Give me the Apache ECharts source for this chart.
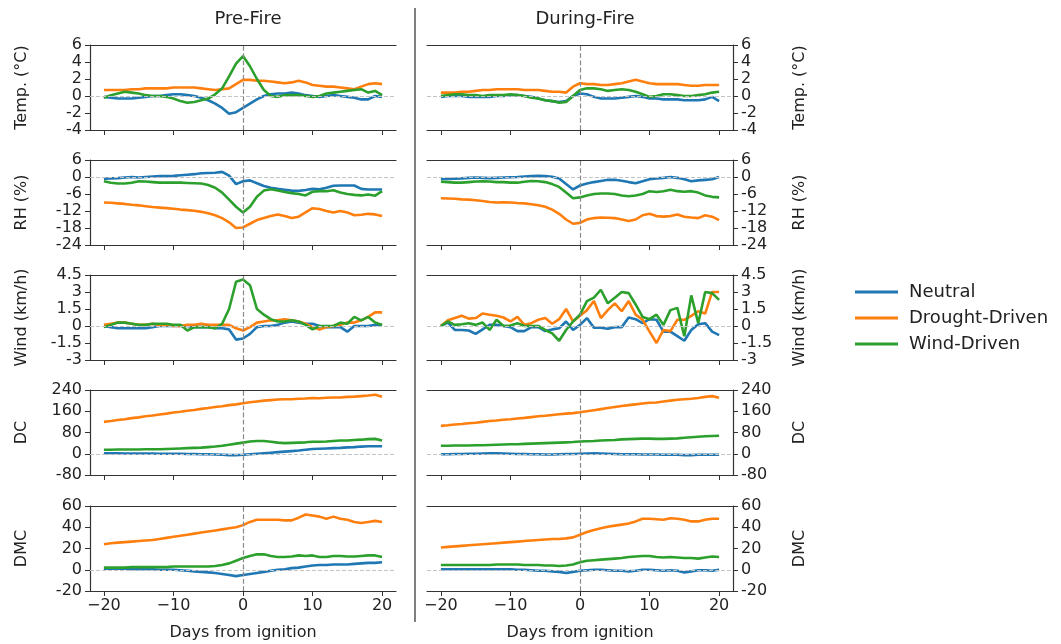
<!DOCTYPE html>
<html>
<head>
<meta charset="utf-8">
<script src="https://cdn.jsdelivr.net/npm/echarts@6/dist/echarts.min.js"></script>
<style>
  html, body { margin: 0; padding: 0; background: #fff; }
  #chart { width: 1061px; height: 644px; }
</style>
</head>
<body>
<div id="chart"></div>
<script>
// days from ignition
const days = [-20,-19,-18,-17,-16,-15,-14,-13,-12,-11,-10,-9,-8,-7,-6,-5,-4,-3,-2,-1,0,1,2,3,4,5,6,7,8,9,10,11,12,13,14,15,16,17,18,19,20];
const seriesNames = ['Neutral', 'Drought-Driven', 'Wind-Driven'];
const xTicks = [-20, -10, 0, 10, 20];

// Temp. (°C)
const tempPreNeutral = [-0.1,-0.2,-0.3,-0.3,-0.3,-0.2,-0.1,0,0,0.1, 0.2,0.2,0.1,0,-0.2,-0.5,-0.9,-1.4,-2.1,-1.9, -1.4,-0.9,-0.4,0,0.2,0.3,0.3,0.4,0.3,0.1, 0,-0.1,0,0.1,0,-0.1,-0.2,-0.4,-0.4,0, -0.1];
const tempPreDrought = [0.7,0.7,0.7,0.7,0.8,0.8,0.9,0.9,0.9,0.9, 1.0,1.0,1.0,1.0,0.9,0.8,0.7,0.8,0.9,1.4, 1.9,1.9,1.8,1.8,1.7,1.6,1.5,1.6,1.8,1.6, 1.3,1.2,1.1,1.1,1.0,0.9,0.8,1.1,1.4,1.5, 1.4];
const tempPreWind = [-0.2,0.1,0.3,0.5,0.4,0.3,0.1,0,0,-0.1, -0.3,-0.6,-0.8,-0.7,-0.5,-0.3,0.2,0.9,2.3,3.8, 4.7,3.5,2.0,0.7,0,-0.1,0.1,0.1,0.1,0, -0.1,0,0.3,0.4,0.5,0.6,0.7,0.8,0.4,0.6, 0.1];
const tempDurNeutral = [-0.1,0,0,0,-0.1,-0.1,-0.1,-0.1,0,0, 0.1,0.1,0,-0.1,-0.3,-0.5,-0.6,-0.7,-0.6,0, 0.3,0.2,-0.1,-0.3,-0.3,-0.3,-0.2,-0.1,0,-0.1, -0.3,-0.3,-0.4,-0.4,-0.4,-0.5,-0.5,-0.5,-0.4,-0.1, -0.6];
const tempDurDrought = [0.4,0.4,0.4,0.5,0.5,0.6,0.7,0.7,0.8,0.8, 0.8,0.8,0.7,0.7,0.7,0.6,0.5,0.5,0.4,1.1, 1.5,1.4,1.4,1.3,1.3,1.4,1.5,1.7,1.9,1.7, 1.5,1.4,1.4,1.4,1.4,1.3,1.2,1.2,1.3,1.3, 1.3];
const tempDurWind = [0,0.1,0.2,0.2,0.1,0.1,0,0.1,0.1,0.1, 0.2,0.1,0,-0.2,-0.3,-0.5,-0.6,-0.8,-0.7,0, 0.7,0.9,0.9,0.8,0.6,0.7,0.8,0.7,0.5,0.2, -0.1,0,0.2,0.2,0.1,0,0,0.1,0.2,0.4, 0.5];

// RH (%)
const rhPreNeutral = [-0.6,-0.5,-0.4,-0.2,0,-0.2,0,0.2,0.3,0.3, 0.4,0.6,0.8,1.0,1.3,1.4,1.5,1.8,0.5,-2.5, -1.5,-1.2,-2.2,-3.2,-3.8,-4.2,-4.5,-4.8,-4.9,-4.6, -4.2,-4.3,-3.8,-3.1,-3.0,-3.0,-3.0,-4.2,-4.4,-4.4, -4.4];
const rhPreDrought = [-9.0,-9.1,-9.3,-9.5,-9.8,-10.0,-10.3,-10.6,-10.8,-11.0, -11.2,-11.5,-11.7,-11.9,-12.3,-12.8,-13.5,-14.5,-16.0,-18.0, -17.8,-16.5,-15.2,-14.5,-13.8,-13.2,-13.8,-14.5,-14.0,-12.5, -11.0,-11.3,-12.0,-12.5,-12.0,-12.5,-13.5,-13.3,-13.0,-13.2, -13.8];
const rhPreWind = [-1.5,-2.0,-2.3,-2.3,-2.0,-1.5,-1.6,-1.8,-2.0,-2.0, -2.0,-2.0,-2.1,-2.2,-2.3,-2.8,-3.8,-5.5,-8.0,-10.5, -12.5,-10.5,-7.0,-4.8,-4.3,-4.8,-5.3,-5.7,-6.0,-6.5, -5.2,-5.0,-5.0,-4.7,-5.5,-6.0,-6.3,-6.5,-6.2,-6.6, -5.0];
const rhDurNeutral = [-0.8,-0.7,-0.6,-0.5,-0.3,-0.2,-0.3,-0.4,-0.3,-0.2, -0.1,0,0.2,0.3,0.4,0.3,0.1,-0.5,-2.5,-4.4, -3.0,-2.3,-1.8,-1.4,-1.0,-1.0,-1.3,-1.8,-2.2,-1.5, -0.8,-0.5,-0.3,0,-0.3,-0.8,-1.5,-1.2,-1.0,-0.8, 0];
const rhDurDrought = [-7.5,-7.6,-7.7,-7.9,-8.0,-8.2,-8.5,-8.8,-9.0,-8.9, -9.0,-9.2,-9.3,-9.6,-10.0,-10.5,-11.5,-13.0,-15.0,-16.5, -16.2,-15.0,-14.5,-14.3,-14.4,-14.5,-15.0,-15.5,-15.0,-13.5, -13.0,-13.8,-14.0,-13.8,-13.2,-14.0,-14.3,-14.5,-13.5,-14.0, -15.2];
const rhDurWind = [-1.7,-1.8,-2.0,-2.0,-1.8,-1.6,-1.5,-1.6,-1.8,-1.8, -2.0,-2.0,-1.7,-1.4,-1.5,-1.8,-2.5,-3.5,-5.5,-7.5, -7.2,-6.5,-6.0,-5.8,-5.8,-6.0,-6.5,-6.8,-6.5,-6.0, -5.0,-5.3,-5.0,-4.5,-5.0,-5.2,-5.0,-5.5,-6.5,-7.0, -7.2];

// Wind (km/h)
const windPreNeutral = [0,-0.1,-0.2,-0.2,-0.2,-0.2,-0.2,-0.1,0,0, 0,0,0,-0.1,-0.1,-0.1,-0.2,-0.2,-0.3,-1.2, -1.1,-0.7,-0.1,0,0,0.1,0.3,0.4,0.3,0.2, 0.2,0,-0.1,-0.1,-0.1,-0.5,0,0,0,0.1, 0.1];
const windPreDrought = [0.1,0.2,0.3,0.3,0.2,0.1,0.1,0.2,0.1,0.1, 0,0,0.1,0.1,0.2,0.1,0.1,0.1,0.1,-0.2, -0.4,-0.1,0.3,0.4,0.5,0.5,0.6,0.5,0.4,0.2, -0.1,-0.3,-0.1,0,0.1,0.3,0.3,0.5,0.8,1.2, 1.2];
const windPreWind = [-0.1,0.1,0.3,0.3,0.2,0.1,0.1,0.2,0.2,0.2, 0.1,0.1,-0.4,-0.1,-0.1,-0.1,-0.2,0.2,1.5,3.9, 4.1,3.6,1.5,1.0,0.6,0.4,0.4,0.5,0.4,0.1, -0.3,0,0,0,0.3,0.2,0.8,0.5,0.8,0.3, 0.1];
const windDurNeutral = [0,0.3,-0.35,-0.35,-0.4,-0.7,-0.3,0.1,0.1,0, -0.1,-0.45,-0.45,-0.1,-0.1,-0.45,-0.3,-0.2,0.4,-0.35, 0.1,0.7,-0.15,-0.15,-0.25,-0.1,-0.1,0.75,0.6,0.25, 0.6,0.55,-0.5,-0.5,-0.9,-1.3,-0.35,0.15,0.25,-0.5, -0.8];
const windDurDrought = [0,0.5,0.7,0.9,0.65,0.7,1.1,1.0,0.9,0.75, 0.4,0.8,0.1,0.25,0.55,0.7,0.2,0.6,1.5,0.4, 0.9,1.4,2.2,0.7,1.4,2.0,1.3,2.2,1.0,0.55, -0.5,-1.5,-0.35,-0.45,0.55,0.55,0.9,1.3,1.1,3.0, 3.0];
const windDurWind = [0,0.4,0.1,0.15,0.25,0.1,0.3,-0.35,0.55,0, 0.05,0.25,0,0,0,-0.35,-0.65,-1.3,-0.35,0.4, 1.0,2.2,2.5,3.2,2.0,2.5,3.0,2.9,1.9,0.8, 0.6,1.0,0.1,1.4,1.6,-0.9,2.7,0.25,3.0,2.9, 2.3];

// DC
const dcPreNeutral = [2,2,2,1,1,1,1,1,0,0, 0,0,-1,-1,-2,-2,-3,-4,-5,-5, -4,-2,0,2,4,6,8,10,12,15, 18,19,20,21,22,24,25,27,28,28, 28];
const dcPreDrought = [120,123,127,130,134,137,141,144,148,151, 155,158,162,165,169,172,176,179,183,186, 190,194,197,200,202,204,205,205,207,208, 210,209,211,212,212,214,215,217,219,222, 215];
const dcPreWind = [15,15,16,16,16,16,17,17,17,18, 19,20,21,22,23,25,27,30,34,38, 42,46,48,48,45,42,40,41,42,43, 45,45,46,48,50,50,52,53,55,56, 50];
const dcDurNeutral = [-2,-2,-1,-1,0,0,1,2,2,1, 0,-1,-1,-2,-2,-3,-3,-2,-1,-1, 0,1,2,1,0,-1,-2,-2,-2,-3, -3,-3,-4,-4,-4,-5,-5,-4,-4,-4, -4];
const dcDurDrought = [105,107,110,112,115,117,120,123,125,128, 130,133,135,138,141,143,146,149,151,153, 156,160,164,168,172,176,180,183,186,189, 192,193,197,200,203,205,207,210,214,217, 211];
const dcDurWind = [30,30,31,31,31,32,32,33,34,35, 36,36,37,38,39,40,41,42,43,44, 46,47,48,50,51,52,54,55,56,57, 57,56,56,57,58,60,62,64,66,67, 68];

// DMC
const dmcPreNeutral = [1,1,1,1,0.5,0.5,0.5,0.5,0,0, 0,-0.5,-1,-1.5,-2,-2.5,-3,-4,-5,-6, -5,-4,-3,-2,-1,0,0.5,1.5,2,3, 4,4.5,4.5,5,5,5,5.5,6,6.5,6.5, 7];
const dmcPreDrought = [24,25,25.5,26,26.5,27,27.5,28,29,30, 31,32,33,34,35,36,37,38,39,40, 42,45,47,47,47,47,46.5,46.5,49,52, 51,50,48,50,48,47,45,44,45,46, 45];
const dmcPreWind = [2,2,2,2,2.5,2.5,2.5,2.5,2.5,2.5, 3,3,3,3,3,3,3.5,4.5,6,8.5, 11,13,14.5,14.5,13,12,12,12.5,13.5,13, 13.5,12,12,13,13,12.5,12.5,13,13.5,13.5, 12];
const dmcDurNeutral = [0.5,0.5,0.5,0.5,0.5,0.5,0.5,0.5,0.5,0.5, 0.5,0,0,-0.5,-1,-1,-1.5,-2,-3,-2, -1,-0.5,0,0,-0.5,-1,-1,-1.5,-1,0, 0,-0.5,-1,-0.5,-1,-2.5,-1.5,-0.5,-0.5,-1, 0];
const dmcDurDrought = [21,21.5,22,22.5,23,23.5,24,24.5,25,25.5, 26,26.5,27,27.5,28,28.5,29,29,29.5,30.5, 33,35.5,37.5,39,40.5,41.5,42.5,43.5,45.5,48, 48,47.5,47,48.5,48,47,45.5,45.5,47,48, 48];
const dmcDurWind = [4.5,4.5,4.5,4.5,4.5,4.5,4.5,4.5,5,5, 5,5,4.5,4.5,4.5,4,4,3.5,4,5, 7,8.5,9,9.5,10,10.5,11,12,12.5,13, 13,12,11.5,12,11.5,11,11,10.5,11.5,12.5, 12];

const rows = [
  { name: 'Temp. (°C)', min: -4, max: 6, interval: 2, pre: [tempPreNeutral, tempPreDrought, tempPreWind], dur: [tempDurNeutral, tempDurDrought, tempDurWind] },
  { name: 'RH (%)', min: -24, max: 6, interval: 6, pre: [rhPreNeutral, rhPreDrought, rhPreWind], dur: [rhDurNeutral, rhDurDrought, rhDurWind] },
  { name: 'Wind (km/h)', min: -3, max: 4.5, interval: 1.5, pre: [windPreNeutral, windPreDrought, windPreWind], dur: [windDurNeutral, windDurDrought, windDurWind] },
  { name: 'DC', min: -80, max: 240, interval: 80, pre: [dcPreNeutral, dcPreDrought, dcPreWind], dur: [dcDurNeutral, dcDurDrought, dcDurWind] },
  { name: 'DMC', min: -20, max: 60, interval: 20, pre: [dmcPreNeutral, dmcPreDrought, dmcPreWind], dur: [dmcDurNeutral, dmcDurDrought, dmcDurWind] }
];

const colors = ['#1f77b4', '#ff7f0e', '#2ca02c'];
const font = 'DejaVu Sans';
const axisColor = '#333';
const textColor = '#222';

const grids = [], xAxes = [], topAxes = [], yAxes = [], series = [];
const colLeft = [90, 427];
const plotW = 306;
const rowTop = [45, 160, 275, 390, 506];
const plotH = 85;

for (let c = 0; c < 2; c++) {
  for (let r = 0; r < 5; r++) {
    const row = rows[r];
    const gi = grids.length;
    const isBottom = r === 4;
    grids.push({ left: colLeft[c], top: rowTop[r], width: plotW, height: plotH });
    xAxes.push({
      type: 'value', gridIndex: gi, min: -22, max: 22,
      axisLine: { onZero: false, lineStyle: { color: axisColor, width: 1.2 } },
      axisTick: { show: true, length: 5, customValues: xTicks, lineStyle: { color: axisColor } },
      axisLabel: {
        show: isBottom, customValues: xTicks, margin: 7,
        fontSize: 16, fontFamily: font, color: textColor,
        formatter: v => String(v).replace('-', '\u2212')
      },
      splitLine: { show: false },
      name: isBottom ? 'Days from ignition' : '',
      nameLocation: 'middle', nameGap: 34,
      nameTextStyle: { fontSize: 16, fontFamily: font, color: textColor }
    });
    topAxes.push({
      type: 'value', gridIndex: gi, min: -22, max: 22, position: 'top',
      axisLine: { onZero: false, lineStyle: { color: axisColor, width: 1.2 } },
      axisTick: { show: false }, axisLabel: { show: false }, splitLine: { show: false }
    });
    yAxes.push({
      type: 'value', gridIndex: gi, position: c === 0 ? 'left' : 'right',
      min: row.min, max: row.max, interval: row.interval,
      axisLine: { show: true, onZero: false, lineStyle: { color: axisColor, width: 1.2 } },
      axisTick: { show: true, length: 5, lineStyle: { color: axisColor } },
      axisLabel: { fontSize: 16, fontFamily: font, color: textColor, margin: 8 },
      splitLine: { show: false },
      name: row.name, nameLocation: 'middle', nameRotate: 90, nameGap: c === 0 ? 60 : 59,
      nameTextStyle: { fontSize: 16, fontFamily: font, color: textColor }
    });
    const sets = c === 0 ? row.pre : row.dur;
    sets.forEach((vals, k) => {
      const s = {
        name: seriesNames[k], type: 'line', xAxisIndex: gi, yAxisIndex: gi,
        data: days.map((d, j) => [d, vals[j]]),
        showSymbol: false, symbol: 'none',
        lineStyle: { color: colors[k], width: 2.6 },
        itemStyle: { color: colors[k] },
        z: 3
      };
      if (k === 0) {
        s.markLine = {
          silent: true, symbol: ['none', 'none'], label: { show: false },
          data: [
            { yAxis: 0, lineStyle: { color: '#c4c4c4', type: 'dashed', width: 1 } },
            { xAxis: 0, lineStyle: { color: '#8a8a8a', type: 'dashed', width: 1.2 } }
          ]
        };
      }
      series.push(s);
    });
  }
}

const chart = echarts.init(document.getElementById('chart'), null, { renderer: 'canvas' });
chart.setOption({
  animation: false,
  backgroundColor: '#fff',
  title: [
    { text: 'Pre-Fire', left: 243, top: 5, textAlign: 'center', textStyle: { fontSize: 18, fontWeight: 'normal', fontFamily: font, color: textColor } },
    { text: 'During-Fire', left: 580, top: 5, textAlign: 'center', textStyle: { fontSize: 18, fontWeight: 'normal', fontFamily: font, color: textColor } }
  ],
  legend: {
    data: seriesNames, orient: 'vertical', left: 850, top: 278,
    icon: 'rect', itemWidth: 43, itemHeight: 3, itemGap: 8,
    textStyle: { fontSize: 18, fontFamily: font, color: textColor, padding: [0, 0, 0, 6] }
  },
  grid: grids,
  xAxis: xAxes.concat(topAxes),
  yAxis: yAxes,
  series: series,
  graphic: [
    { type: 'line', shape: { x1: 415, y1: 8, x2: 415, y2: 622 }, style: { stroke: '#555', lineWidth: 1.5 } }
  ]
});
</script>
</body>
</html>
